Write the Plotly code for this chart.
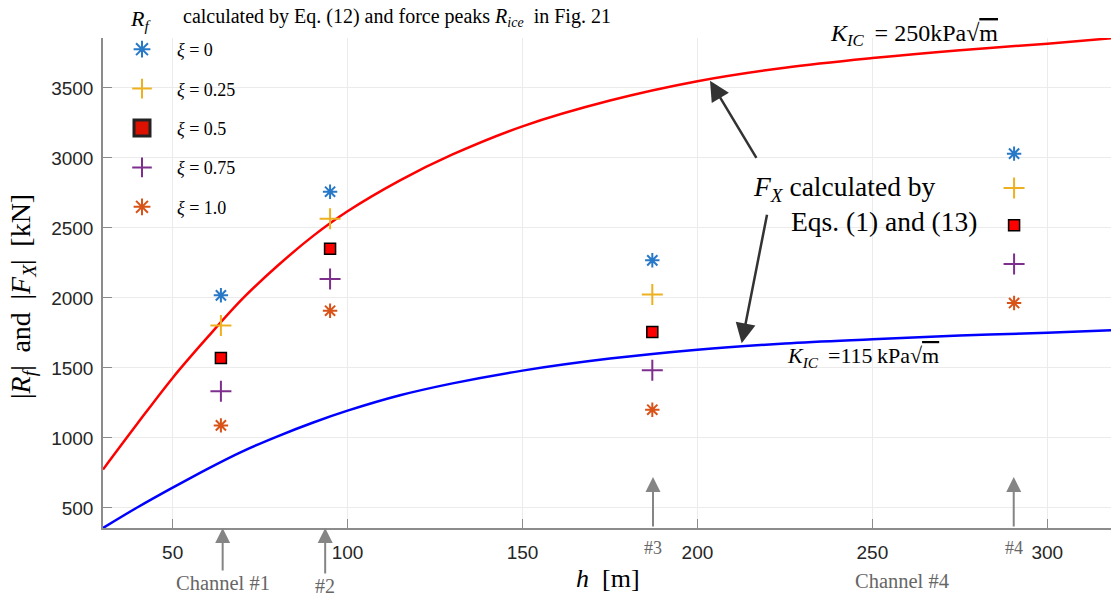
import plotly.graph_objects as go

# ---------------- data ----------------
h_curve = [30.1, 40, 50, 60, 70, 80, 90, 100, 115, 130, 150, 175, 200, 225, 250, 275, 300, 318.2]
F_250 = [775, 1105, 1429, 1720, 1995, 2230, 2440, 2619, 2840, 3025, 3226, 3410, 3548, 3645, 3714, 3770, 3816, 3855]
F_115 = [357, 505, 645, 780, 905, 1012, 1109, 1195, 1305, 1390, 1481, 1567, 1631, 1675, 1705, 1732, 1751, 1770]

channel_h = [63.8, 95.0, 187.1, 290.5]
xi_labels = ["0", "0.25", "0.5", "0.75", "1.0"]
R_xi0 = [2019, 2759, 2269, 3031]
R_xi025 = [1804, 2566, 2024, 2786]
R_xi05 = [1571, 2352, 1757, 2519]
R_xi075 = [1333, 2136, 1483, 2243]
R_xi1 = [1090, 1909, 1202, 1964]
R_series = [R_xi0, R_xi025, R_xi05, R_xi075, R_xi1]

arrow_h = [64.3, 93.6, 187.3, 290.4]
channel_labels = ["Channel #1", "#2", "#3", "#4"]

x_ticks = [50, 100, 150, 200, 250, 300]
y_ticks = [500, 1000, 1500, 2000, 2500, 3000, 3500]
x_range = [30.1, 318.2]
y_range = [357, 3857]

# ---------------- styles ----------------
colors = ["#2878c8", "#EDB120", "#FF0000", "#7E2F8E", "#D95319"]
symbols = ["asterisk-open", "cross-thin-open", "square", "cross-thin-open", "asterisk-open"]
sizes = [12, 15, 11, 15, 12]
SERIF = "Liberation Serif"
SANS = "Liberation Sans"

W, H = 1111, 596
ML, MR, MT, MB = 103, 0, 38, 68
PW, PH = W - ML - MR, H - MT - MB


def pxx(xp):
    return (xp - ML) / PW


def pxy(yp):
    return (H - MB - yp) / PH


fig = go.Figure()

fig.add_trace(go.Scatter(x=h_curve, y=F_250, mode="lines",
                         line=dict(color="#FF0000", width=2.5, shape="spline", smoothing=1.0),
                         showlegend=False, hoverinfo="skip"))
fig.add_trace(go.Scatter(x=h_curve, y=F_115, mode="lines",
                         line=dict(color="#0000FF", width=2.5, shape="spline", smoothing=1.0),
                         showlegend=False, hoverinfo="skip"))

for i, vals in enumerate(R_series):
    is_sq = symbols[i] == "square"
    marker = dict(symbol=symbols[i], size=sizes[i], color=colors[i],
                  line=dict(color="#000000" if is_sq else colors[i], width=1.5 if is_sq else 2))
    fig.add_trace(go.Scatter(x=channel_h, y=vals, mode="markers", marker=marker, showlegend=False))
    # legend entry
    lmarker = dict(symbol=symbols[i], size=20 if is_sq else 14, color="#DD1100" if is_sq else colors[i],
                   line=dict(color="#222222" if is_sq else colors[i], width=3 if is_sq else 2))
    fig.add_trace(go.Scatter(x=[None], y=[None], mode="markers", marker=lmarker,
                             name="<i>ξ</i> = " + xi_labels[i], legendgroup="g%d" % i, showlegend=True))

ann = []
# top header
ann.append(dict(xref="paper", yref="paper", x=pxx(128), y=pxy(20), xanchor="left", yanchor="middle",
                text="<i>R<sub>f</sub></i>", showarrow=False, font=dict(family=SERIF, size=22, color="#000")))
ann.append(dict(xref="paper", yref="paper", x=pxx(181), y=pxy(18), xanchor="left", yanchor="middle",
                text="calculated by Eq. (12) and force peaks <i>R<sub>ice</sub></i>  in Fig. 21",
                showarrow=False, font=dict(family=SERIF, size=20, color="#000")))
# K_IC labels
ann.append(dict(xref="paper", yref="paper", x=pxx(914), y=pxy(35), xanchor="center", yanchor="middle",
                text="<i>K</i><sub><i>IC</i></sub>\u2009 = 250kPa√<span style='text-decoration:overline'>m</span>",
                showarrow=False, font=dict(family=SERIF, size=24, color="#000")))
ann.append(dict(xref="paper", yref="paper", x=pxx(863), y=pxy(357), xanchor="center", yanchor="middle",
                text="<i>K</i><sub><i>IC</i></sub>\u2009 =115\u2009kPa√<span style='text-decoration:overline'>m</span>",
                showarrow=False, font=dict(family=SERIF, size=22, color="#000")))
# F_X text
ann.append(dict(xref="paper", yref="paper", x=pxx(751), y=pxy(188), xanchor="left", yanchor="middle",
                text="<i>F<sub>X</sub></i> calculated by", showarrow=False,
                font=dict(family=SERIF, size=27.5, color="#000")))
ann.append(dict(xref="paper", yref="paper", x=pxx(789), y=pxy(222), xanchor="left", yanchor="middle",
                text="Eqs. (1) and (13)", showarrow=False, font=dict(family=SERIF, size=27.5, color="#000")))
# dark arrows
ann.append(dict(xref="paper", yref="paper", x=pxx(710), y=pxy(80.7), ax=47.3, ay=78.6, axref="pixel", ayref="pixel",
                text="", showarrow=True, arrowhead=2, arrowsize=1.6, arrowwidth=2.5, arrowcolor="#333333"))
ann.append(dict(xref="paper", yref="paper", x=pxx(741.7), y=pxy(343.3), ax=25.6, ay=-130, axref="pixel",
                ayref="pixel", text="", showarrow=True, arrowhead=2, arrowsize=1.6, arrowwidth=2.5,
                arrowcolor="#333333"))
# channel arrows
gray = "#858585"
ann.append(dict(xref="x", yref="paper", x=arrow_h[0], y=0, ax=0, ay=55, text=channel_labels[0],
                showarrow=True, arrowhead=2, arrowsize=1.5, arrowwidth=2, arrowcolor=gray,
                font=dict(family=SERIF, size=20.5, color="#666666")))
ann.append(dict(xref="x", yref="paper", x=arrow_h[1], y=0, ax=0, ay=58, text=channel_labels[1],
                showarrow=True, arrowhead=2, arrowsize=1.5, arrowwidth=2, arrowcolor=gray,
                font=dict(family=SERIF, size=20, color="#666666")))
for k in (2, 3):
    ann.append(dict(xref="x", yref="paper", x=arrow_h[k], y=pxy(477), ax=0, ay=51, text="",
                    showarrow=True, arrowhead=2, arrowsize=1.5, arrowwidth=2, arrowcolor=gray))
    ann.append(dict(xref="x", yref="paper", x=arrow_h[k], y=pxy(548), xanchor="center", yanchor="middle",
                    text=channel_labels[k], showarrow=False, font=dict(family=SERIF, size=18, color="#666666")))
ann.append(dict(xref="paper", yref="paper", x=pxx(902), y=pxy(581), xanchor="center", yanchor="middle",
                text="Channel #4", showarrow=False, font=dict(family=SERIF, size=20.5, color="#666666")))
# axis titles
ann.append(dict(xref="paper", yref="paper", x=pxx(608), y=pxy(578), xanchor="center", yanchor="middle",
                text="<i>h</i>  [m]", showarrow=False, font=dict(family=SERIF, size=26, color="#000")))
ann.append(dict(xref="paper", yref="paper", x=pxx(22), y=pxy(297), xanchor="center", yanchor="middle",
                text="|<i>R<sub>f</sub></i>|\u2009 and \u2009|<i>F<sub>X</sub></i>|\u2009 [kN]", textangle=-90,
                showarrow=False, font=dict(family=SERIF, size=28, color="#000")))

axis_common = dict(ticks="inside", ticklen=9, tickcolor="#8c8c8c", tickwidth=1, showline=True,
                   linecolor="#8c8c8c", linewidth=1.5, showgrid=True, gridcolor="#ebebeb", gridwidth=1,
                   zeroline=False, tickfont=dict(family=SANS, size=19, color="#262626"), mirror=False)

fig.update_layout(
    width=W, height=H, autosize=False,
    margin=dict(l=ML, r=MR, t=MT, b=MB, pad=0),
    plot_bgcolor="white", paper_bgcolor="white",
    xaxis=dict(range=x_range, tickvals=x_ticks, ticklabelstandoff=6, **axis_common),
    yaxis=dict(range=y_range, tickvals=y_ticks, ticklabelstandoff=4, **axis_common),
    legend=dict(x=pxx(107), y=pxy(31), xanchor="left", yanchor="top", bgcolor="rgba(0,0,0,0)",
                font=dict(family=SERIF, size=18, color="#000"), tracegroupgap=13, itemsizing="trace",
                itemwidth=60),
    annotations=ann,
    showlegend=True,
)

fig.write_html("out.html", config={"displayModeBar": False},
               post_script="document.body.style.margin='0';document.body.style.overflow='hidden';")
